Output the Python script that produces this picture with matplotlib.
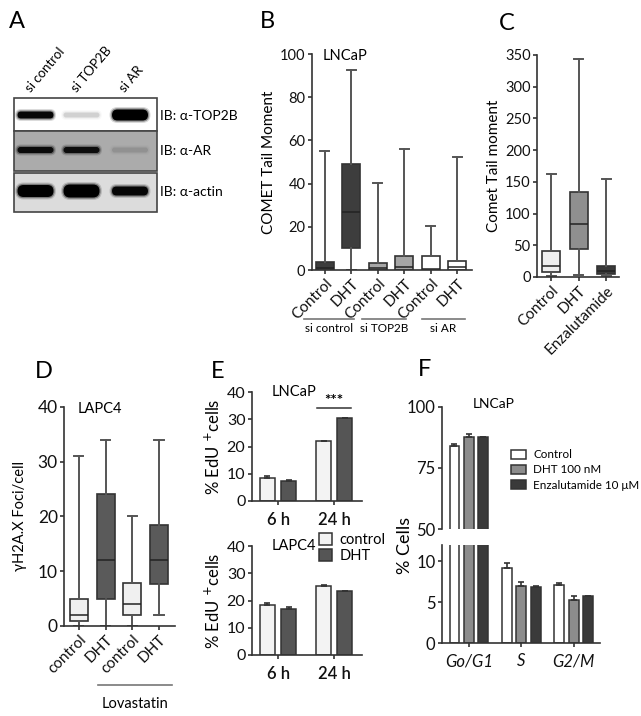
import matplotlib
matplotlib.use("Agg")
import matplotlib.pyplot as plt
import matplotlib.transforms as mtransforms
from matplotlib.patches import Rectangle, FancyBboxPatch
import numpy as np

plt.rcParams["font.family"] = ["Lato", "DejaVu Sans"]
plt.rcParams["mathtext.fontset"] = "dejavusans"

W, H = 641, 716
INK = "#333333"
LINE = "#555555"

# ---- A: western blot (band intensity 0..1 per lane)
blot_lanes = ["si control", "si TOP2B", "si AR"]
blot_rows = ["IB: \u03b1-TOP2B", "IB: \u03b1-AR", "IB: \u03b1-actin"]
band_top2b = [0.95, 0.12, 1.0]
band_ar = [0.9, 0.88, 0.1]
band_actin = [1.0, 1.0, 0.95]

# ---- B: COMET tail moment, LNCaP (whislo, q1, med, q3, whishi)
b_labels = ["Control", "DHT", "Control", "DHT", "Control", "DHT"]
b_groups = ["si control", "si TOP2B", "si AR"]
b_whislo = [0, 0, 0, 0, 0, 0]
b_q1 = [0, 10.3, 0, 0, 0, 0]
b_med = [1.0, 27.0, 0.8, 1.6, 0.6, 1.2]
b_q3 = [3.5, 49.0, 3.4, 6.3, 6.6, 4.0]
b_whishi = [55.0, 92.5, 40.5, 56.0, 20.5, 52.5]
b_colors = ["#3d3d3d", "#3d3d3d", "#a6a6a6", "#a6a6a6", "white", "white"]

# ---- C: comet tail moment
c_labels = ["Control", "DHT", "Enzalutamide"]
c_whislo = [2, 3, 1]
c_q1 = [8, 44, 4]
c_med = [17, 84, 10]
c_q3 = [41, 134, 17.5]
c_whishi = [163, 343, 154]
c_colors = ["#efefef", "#8f8f8f", "#3a3a3a"]

# ---- D: gH2A.X foci, LAPC4
d_labels = ["control", "DHT", "control", "DHT"]
d_whislo = [0, 0, 0, 2]
d_q1 = [1, 5, 2, 7.7]
d_med = [2, 12, 4.1, 12]
d_q3 = [5, 24, 7.8, 18.5]
d_whishi = [31, 34, 20, 34]
d_colors = ["#f0f0f0", "#5a5a5a", "#f0f0f0", "#5a5a5a"]

# ---- E: % EdU+ cells
e_times = ["6 h", "24 h"]
e_lncap_ctrl = [8.5, 22.0]
e_lncap_ctrl_err = [0.5, 0.2]
e_lncap_dht = [7.2, 30.3]
e_lncap_dht_err = [0.4, 0.2]
e_lapc4_ctrl = [18.3, 25.5]
e_lapc4_ctrl_err = [0.6, 0.3]
e_lapc4_dht = [16.7, 23.4]
e_lapc4_dht_err = [0.8, 0.1]

# ---- F: cell cycle, LNCaP
f_phases = ["Go/G1", "S", "G2/M"]
f_series = ["Control", "DHT 100 nM", "Enzalutamide 10 \u03bcM"]
f_ctrl = [84.0, 9.2, 7.1]
f_ctrl_err = [0.8, 0.6, 0.3]
f_dht = [87.8, 7.0, 5.3]
f_dht_err = [1.0, 0.5, 0.5]
f_enz = [87.8, 6.9, 5.75]
f_enz_err = [0.0, 0.1, 0.0]
f_colors = ["white", "#8c8c8c", "#3a3a3a"]


def rect(x0, y0, x1, y1):
    return [x0 / W, 1 - y1 / H, (x1 - x0) / W, (y1 - y0) / H]


def fy(y):
    return 1 - y / H


def style(ax, fs=10.5):
    for s in ["top", "right"]:
        ax.spines[s].set_visible(False)
    for s in ["left", "bottom"]:
        ax.spines[s].set_color(INK)
        ax.spines[s].set_linewidth(1.2)
    ax.tick_params(direction="out", length=3, width=1.2, color=INK,
                   labelsize=fs, pad=1.5, labelcolor="#111111")


def boxes(ax, whislo, q1, med, q3, whishi, colors, width=0.68):
    stats = [dict(whislo=a, q1=b, med=c, q3=d, whishi=e, fliers=[])
             for a, b, c, d, e in zip(whislo, q1, med, q3, whishi)]
    pos = np.arange(1, len(stats) + 1)
    r = ax.bxp(stats, positions=pos, widths=width, patch_artist=True,
               showfliers=False,
               boxprops=dict(edgecolor=INK, linewidth=1.2),
               whiskerprops=dict(color=LINE, linewidth=1.4),
               capprops=dict(color=LINE, linewidth=1.4),
               medianprops=dict(color="#222222", linewidth=1.1))
    for b, c in zip(r["boxes"], colors):
        b.set_facecolor(c)
    return pos


fig = plt.figure(figsize=(W / 100, H / 100), dpi=100)

# ---------------- A
axa = fig.add_axes([0, 0, 1, 1], zorder=-1)
axa.set_xlim(0, W); axa.set_ylim(H, 0); axa.axis("off")
lane_x = [35.5, 81.5, 130]
rows = [(98, 131, "white", band_top2b, 115, [7, 5, 11], 116),
        (131, 171, "#ababab", band_ar, 150, [6, 6, 5], 151),
        (173, 212, "#dcdcdc", band_actin, 191, [12, 13, 9], 192)]
for (y0, y1, bg, inten, yc, hts, ty), lab in zip(rows, blot_rows):
    axa.add_patch(Rectangle((14, y0), 143, y1 - y0, facecolor=bg,
                            edgecolor="#444444", lw=1.2))
    for x, a, h in zip(lane_x, inten, hts):
        for grow, al in [(5, 0.15), (2.5, 0.35), (0, 1.0)]:
            axa.add_patch(FancyBboxPatch((x - 18 - grow / 2, yc - h / 2 - grow / 2),
                                         36 + grow, h + grow,
                                         boxstyle="round,pad=0,rounding_size=%g" % ((h + grow) / 2),
                                         facecolor="black", edgecolor="none",
                                         alpha=a * al))
    axa.text(160, ty, lab, fontsize=10, va="center", ha="left")
for x, lab in zip(lane_x, blot_lanes):
    axa.text(x - 3, 94, lab, fontsize=9.5, rotation=50, ha="left",
             va="bottom", rotation_mode="anchor")

# panel letters
for lx, ly, L in [(17, 22, "A"), (267, 22, "B"), (507, 24, "C"),
                  (44, 371, "D"), (218, 371, "E"), (425, 370, "F")]:
    fig.text(lx / W, fy(ly), L, fontsize=17, ha="center", va="center")

# ---------------- B
axb = fig.add_axes(rect(311.7, 54, 472, 270))
style(axb)
pos = boxes(axb, b_whislo, b_q1, b_med, b_q3, b_whishi, b_colors)
axb.set_xlim(0.5, 6.55); axb.set_ylim(0, 100)
axb.set_yticks([0, 20, 40, 60, 80, 100])
axb.set_xticks(pos)
axb.set_xticklabels(b_labels, rotation=45, ha="right", va="top",
                    rotation_mode="anchor", fontsize=11)
axb.set_ylabel("COMET Tail Moment", fontsize=11, labelpad=3)
axb.text(0.9, 99, "LNCaP", fontsize=10.5, va="center", ha="left")
tr = mtransforms.blended_transform_factory(axb.transData, fig.transFigure)
for (g0, g1), lab in zip([(0.21, 2.09), (2.4, 4.06), (4.66, 6.28)], b_groups):
    axb.plot([g0, g1], [fy(319)] * 2, transform=tr, color="#777777",
             lw=1.2, clip_on=False)
    axb.text((g0 + g1) / 2, fy(328), lab, transform=tr, fontsize=8.5,
             ha="center", va="center")

# ---------------- C
axc = fig.add_axes(rect(537, 55, 619, 277))
style(axc)
pos = boxes(axc, c_whislo, c_q1, c_med, c_q3, c_whishi, c_colors, width=0.66)
axc.set_xlim(0.48, 3.47); axc.set_ylim(0, 350)
axc.set_yticks(range(0, 351, 50))
axc.set_xticks(pos)
axc.set_xticklabels(c_labels, rotation=45, ha="right", va="top",
                    rotation_mode="anchor", fontsize=11)
axc.set_ylabel("Comet Tail moment", fontsize=11, labelpad=3)

# ---------------- D
axd = fig.add_axes(rect(64, 406.7, 175, 626))
style(axd)
pos = boxes(axd, d_whislo, d_q1, d_med, d_q3, d_whishi, d_colors)
axd.set_xlim(0.44, 4.6); axd.set_ylim(0, 40)
axd.set_yticks([0, 10, 20, 30, 40])
axd.tick_params(axis="y", labelsize=12.5)
axd.set_xticks(pos)
axd.set_xticklabels(d_labels, rotation=45, ha="right", va="top",
                    rotation_mode="anchor", fontsize=11)
axd.set_ylabel("\u03b3H2A.X Foci/cell", fontsize=10.5, labelpad=8)
axd.text(0.95, 39.5, "LAPC4", fontsize=10.5, va="center", ha="left")
tr = mtransforms.blended_transform_factory(axd.transData, fig.transFigure)
axd.plot([1.71, 4.48], [fy(685)] * 2, transform=tr, color="#777777",
         lw=1.2, clip_on=False)
axd.text(3.1, fy(704), "Lovastatin", transform=tr, fontsize=10.5,
         ha="center", va="center")


# ---------------- E
def ebars(ax, ctrl, ctrl_err, dht, dht_err, title):
    style(ax, fs=11.5)
    x = np.arange(len(e_times))
    w, off = 0.27, 0.19
    kw = dict(ecolor=INK, elinewidth=1.2, capsize=2.5, capthick=1.2)
    ax.bar(x - off, ctrl, w, yerr=[np.zeros(len(ctrl)), ctrl_err],
           color="#f3f3f3", edgecolor=INK, linewidth=1.1, error_kw=kw,
           label="control")
    ax.bar(x + off, dht, w, yerr=[np.zeros(len(dht)), dht_err],
           color="#555555", edgecolor=INK, linewidth=1.1, error_kw=kw,
           label="DHT")
    ax.set_xlim(-0.47, 1.49); ax.set_ylim(0, 40)
    ax.set_yticks([0, 10, 20, 30, 40])
    ax.set_xticks(x)
    ax.set_xticklabels(e_times, fontsize=12, fontweight="semibold")
    ax.tick_params(axis="x", pad=5)
    ax.set_ylabel("% EdU $^{+}$cells", fontsize=12, labelpad=3)
    ax.text(0.18, 1.0, title, transform=ax.transAxes, fontsize=10.5,
            va="center", ha="left")


axe1 = fig.add_axes(rect(251.7, 392, 361.7, 501))
ebars(axe1, e_lncap_ctrl, e_lncap_ctrl_err, e_lncap_dht, e_lncap_dht_err, "LNCaP")
axe1.plot([0.7, 1.3], [34, 34], color=INK, lw=1.1)
axe1.text(1.0, 34.3, "***", ha="center", va="bottom", fontsize=11,
          fontweight="bold")
axe2 = fig.add_axes(rect(251.7, 546, 361.7, 655))
ebars(axe2, e_lapc4_ctrl, e_lapc4_ctrl_err, e_lapc4_dht, e_lapc4_dht_err, "LAPC4")
axe2.legend(loc="upper left", bbox_to_anchor=(0.56, 1.17), frameon=False,
            fontsize=10.5, handlelength=0.9, handleheight=0.9,
            handletextpad=0.5, labelspacing=0.1, borderaxespad=0)

# ---------------- F
axf1 = fig.add_axes(rect(441.7, 406.7, 600, 529.3))
axf2 = fig.add_axes(rect(441.7, 545, 600, 643.3))
x = np.arange(len(f_phases))
w, off = 0.19, 0.276
for ax in (axf1, axf2):
    style(ax, fs=12)
    for i, (vals, err, c, lab) in enumerate(zip([f_ctrl, f_dht, f_enz],
                                                [f_ctrl_err, f_dht_err, f_enz_err],
                                                f_colors, f_series)):
        ax.bar(x + (i - 1) * off, vals, w, yerr=[np.zeros(3), err],
               color=c, edgecolor=INK, linewidth=1.1, label=lab,
               error_kw=dict(ecolor=INK, elinewidth=1.2, capsize=2.5, capthick=1.2))
    ax.set_xlim(-0.52, 2.5)
axf1.set_ylim(50, 100); axf1.set_yticks([50, 75, 100])
axf1.spines["bottom"].set_visible(False)
axf1.set_xticks([])
axf2.set_ylim(0, 12); axf2.set_yticks([0, 5, 10])
axf2.set_xticks(x)
axf2.set_xticklabels(f_phases, fontsize=12, style="italic")
axf2.tick_params(axis="x", pad=4)
axf1.text(0.07, 101, "LNCaP", fontsize=10, va="center", ha="left")
axf1.legend(loc="upper left", bbox_to_anchor=(0.41, 0.69), frameon=False,
            fontsize=8.4, handlelength=1.3, handleheight=0.8,
            handletextpad=0.6, labelspacing=0.35, borderaxespad=0)
fig.text(405 / W, fy(545), "% Cells", rotation=90, fontsize=13,
         ha="center", va="center")

fig.savefig("out.png", dpi=100)
